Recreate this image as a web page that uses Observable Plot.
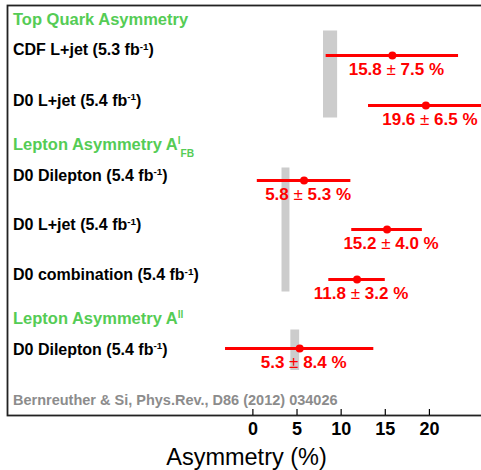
<!DOCTYPE html>
<html><head><meta charset="utf-8">
<script src="https://cdn.jsdelivr.net/npm/d3@7"></script>
<script src="https://cdn.jsdelivr.net/npm/@observablehq/plot@0.6"></script>
<style>body{margin:0;background:#fff}</style>
</head><body><div id="chart"></div>
<script>
// ---- data ----
const labels = ["CDF L+jet (5.3 fb^{-1})", "D0 L+jet (5.4 fb^{-1})", "D0 Dilepton (5.4 fb^{-1})",
                "D0 L+jet (5.4 fb^{-1})", "D0 combination (5.4 fb^{-1})", "D0 Dilepton (5.4 fb^{-1})"];
const values = [15.8, 19.6, 5.8, 15.2, 11.8, 5.3];
const errors = [7.5, 6.5, 5.3, 4.0, 3.2, 8.4];
const rows = [1.0, 2.0, 3.5, 4.48, 5.48, 6.86];        // row slot of each measurement
const labelRows = [0.99, 2.0, 3.5, 4.49, 5.49, 6.98];  // row slot of each label
const headers = ["Top Quark Asymmetry", "Lepton Asymmetry A^{l}_{FB}", "Lepton Asymmetry A^{ll}"];
const headerRows = [0.38, 2.88, 6.36];
// SM predictions (grey bands)
const smCenter = [8.8, 3.75, 4.8];
const smError = [0.8, 0.45, 0.5];
const smRowFrom = [0.51, 3.25, 6.49];
const smRowTo = [2.25, 5.73, 7.3];
const caption = "Bernreuther & Si, Phys.Rev., D86 (2012) 034026";
const captionRow = 7.98;
const xTicks = [0, 5, 10, 15, 20];
const xLabel = "Asymmetry (%)";

const F = "'Liberation Sans', Arial, Helvetica, sans-serif";
const data = labels.map((label, i) => ({label, value: values[i], err: errors[i], row: rows[i], labelRow: labelRows[i]}));
const hdr = headers.map((h, i) => ({h, row: headerRows[i]}));
const sm = smCenter.map((c, i) => ({lo: c - smError[i], hi: c + smError[i], y1: smRowFrom[i], y2: smRowTo[i]}));
const fmt = d => `${d.value.toFixed(1)} ± ${d.err.toFixed(1)} %`;

const chart = Plot.plot({
  width: 481, height: 470,
  marginTop: 5, marginBottom: 55, marginLeft: 7, marginRight: 0,
  x: {domain: [-27.8, 25.9]},
  y: {domain: [0, 8.2], reverse: true, axis: null},
  style: {fontFamily: F, background: "#fff", color: "#000"},
  marks: [
    Plot.rect(sm, {x1: "lo", x2: "hi", y1: "y1", y2: "y2", fill: "#cccccc"}),
    Plot.ruleY(data, {y: "row", x1: d => d.value - d.err, x2: d => d.value + d.err, stroke: "#ff0000", strokeWidth: 3}),
    Plot.dot(data, {x: "value", y: "row", r: 4, fill: "#ff0000"}),
    Plot.text(data, {x: "value", y: "row", text: fmt, dx: 4, dy: 19, lineAnchor: "bottom", fill: "#ff0000", fontSize: 17, fontWeight: "bold"}),
    Plot.text(data, {frameAnchor: "left", y: "labelRow", text: "label", dx: 5.5, textAnchor: "start", lineAnchor: "bottom", fontSize: 16, fontWeight: "bold", fill: "#000"}),
    Plot.text(hdr, {frameAnchor: "left", y: "row", text: "h", dx: 5.5, textAnchor: "start", lineAnchor: "bottom", fontSize: 16.5, fontWeight: "bold", fill: "#55cc55"}),
    Plot.text([{t: caption, row: captionRow}], {frameAnchor: "left", y: "row", text: "t", dx: 5.5, textAnchor: "start", lineAnchor: "bottom", fontSize: 14.5, fontWeight: "bold", fill: "#8c8c8c"}),
    Plot.frame({stroke: "#222", strokeWidth: 1.8, insetRight: -5}),
    Plot.tickX(xTicks, {x: d => d, insetTop: 404, stroke: "#000", strokeWidth: 1.2}),
    Plot.axisX({ticks: xTicks, tickSize: 0, tickPadding: 7, fontSize: 18, fontWeight: "bold", label: null}),
    Plot.text([xLabel], {frameAnchor: "bottom", dy: 49, dx: 2, lineAnchor: "bottom", fontSize: 23.5, fill: "#000"})
  ]
});
document.getElementById("chart").appendChild(chart);

// rich text: superscripts, subscripts and a light ± sign
const NS = "http://www.w3.org/2000/svg";
chart.querySelectorAll("text").forEach(t => {
  const s = t.textContent;
  if (!/[\^_±]/.test(s)) return;
  const fs = parseFloat(getComputedStyle(t).fontSize);
  const parts = s.match(/\^\{[^}]*\}|_\{[^}]*\}|±|[^\^_±]+/g);
  t.textContent = "";
  let off = 0;
  for (const p of parts) {
    const ts = document.createElementNS(NS, "tspan");
    let target = 0, txt = p;
    if (p.startsWith("^{")) { target = -0.32 * fs; txt = p.slice(2, -1); ts.setAttribute("font-size", 0.62 * fs); }
    else if (p.startsWith("_{")) { target = 0.45 * fs; txt = p.slice(2, -1); ts.setAttribute("font-size", 0.62 * fs); }
    else if (p === "±") { ts.setAttribute("font-weight", "normal"); }
    const dy = target - off; off = target;
    if (dy) ts.setAttribute("dy", dy);
    ts.textContent = txt;
    t.appendChild(ts);
  }
});
</script>
</body></html>
